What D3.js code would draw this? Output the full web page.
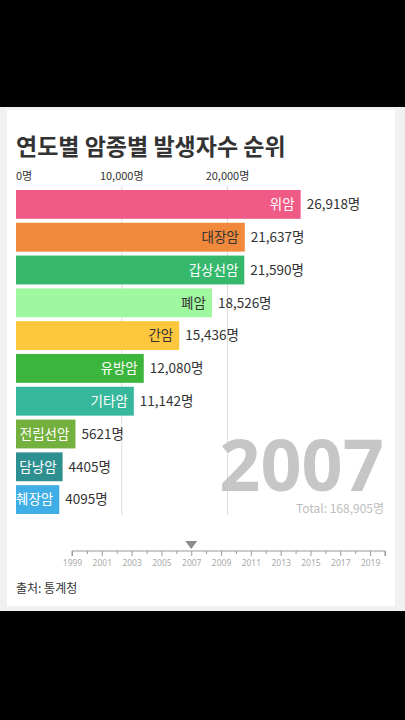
<!DOCTYPE html>
<html>
<head>
<meta charset="utf-8">
<script src="https://cdn.jsdelivr.net/npm/d3@7"></script>
<style>
  html, body { margin: 0; padding: 0; background: #000; }
  svg { display: block; font-family: "Noto Sans CJK KR", "Noto Sans", sans-serif; }
</style>
</head>
<body>
<svg></svg>
<script>
// 2007년 암종별 발생자수
let categories = ["위암", "대장암", "갑상선암", "폐암", "간암", "유방암", "기타암", "전립선암", "담낭암", "췌장암"];
let values = [26918, 21637, 21590, 18526, 15436, 12080, 11142, 5621, 4405, 4095];
let barColors = ["#f05a86", "#f1893c", "#35b86b", "#9ff79f", "#fcc73d", "#3bb53b", "#37b79b", "#73b03e", "#2e8f90", "#40aee6"];
let darkLabels = ["대장암", "폐암", "간암"];
let axisTicks = [0, 10000, 20000];
let timelineYears = [1999, 2001, 2003, 2005, 2007, 2009, 2011, 2013, 2015, 2017, 2019];

let year = 2007;
let total = 168905;
let title = "연도별 암종별 발생자수 순위";
let source = "출처: 통계청";

let width = 405;
let height = 720;

let svg = d3.select("svg");
let fmt = d3.format(",");
let valueText = (v) => (v >= 10000 ? fmt(v) : String(v)) + "명";

const drawCanvas = () => {
  svg.attr("width", width).attr("height", height);
  svg.append("rect").attr("x", 0).attr("y", 0).attr("width", width).attr("height", height).attr("fill", "#000");
  svg.append("rect").attr("x", 0).attr("y", 107).attr("width", width).attr("height", 504).attr("fill", "#f1f1f1");
  svg.append("rect").attr("x", 7).attr("y", 110).attr("width", 388).attr("height", 496).attr("fill", "#fff");
};

const addTitle = () => {
  svg.append("text")
    .attr("x", 16)
    .attr("y", 155)
    .attr("font-size", 23)
    .attr("font-weight", "bold")
    .attr("fill", "#333")
    .text(title);
};

let xScale = d3.scaleLinear().domain([0, 20000]).range([16, 227.5]);
let yScale = d3.scaleBand().domain(categories).range([188, 516]).paddingInner(0.12).paddingOuter(0.06);
let color = d3.scaleOrdinal().domain(categories).range(barColors);

const drawGrid = () => {
  let g = svg.append("g");
  g.selectAll("line")
    .data(axisTicks.filter((d) => d > 0))
    .enter()
    .append("line")
    .attr("x1", (d) => xScale(d))
    .attr("x2", (d) => xScale(d))
    .attr("y1", 186)
    .attr("y2", 515)
    .attr("stroke", "#dcdcdc")
    .attr("stroke-width", 1);

  g.selectAll("text")
    .data(axisTicks)
    .enter()
    .append("text")
    .attr("x", (d) => xScale(d))
    .attr("y", 180)
    .attr("text-anchor", (d) => (d === 0 ? "start" : "middle"))
    .attr("font-size", 11)
    .attr("fill", "#333")
    .text((d) => fmt(d) + "명");
};

const drawBars = () => {
  svg.append("clipPath").attr("id", "plot-clip")
    .append("rect").attr("x", 16).attr("y", 180).attr("width", 380).attr("height", 340);

  let rows = svg.append("g")
    .selectAll("g")
    .data(categories)
    .enter()
    .append("g");

  rows.append("rect")
    .attr("x", xScale(0))
    .attr("y", (d) => yScale(d))
    .attr("width", (d, i) => xScale(values[i]) - xScale(0))
    .attr("height", yScale.bandwidth())
    .attr("fill", (d) => color(d));

  rows.append("text")
    .attr("clip-path", "url(#plot-clip)")
    .attr("x", (d, i) => xScale(values[i]) - 6)
    .attr("y", (d) => yScale(d) + yScale.bandwidth() / 2)
    .attr("dy", "0.35em")
    .attr("text-anchor", "end")
    .attr("font-size", 13.5)
    .attr("fill", (d) => (darkLabels.includes(d) ? "#333" : "#fff"))
    .text((d) => d);

  rows.append("text")
    .attr("x", (d, i) => xScale(values[i]) + 6)
    .attr("y", (d) => yScale(d) + yScale.bandwidth() / 2)
    .attr("dy", "0.35em")
    .attr("font-size", 13.5)
    .attr("fill", "#333")
    .text((d, i) => valueText(values[i]));
};

const drawYear = () => {
  svg.append("text")
    .attr("x", 384)
    .attr("y", 491)
    .attr("text-anchor", "end")
    .attr("font-family", "'Noto Sans', sans-serif")
    .attr("font-size", 72)
    .attr("font-weight", "bold")
    .attr("fill", "#c6c6c6")
    .text(year);

  svg.append("text")
    .attr("x", 384)
    .attr("y", 513)
    .attr("text-anchor", "end")
    .attr("font-size", 12)
    .attr("fill", "#bdbdbd")
    .text("Total: " + fmt(total) + "명");
};

const drawTimeline = () => {
  let tScale = d3.scaleLinear().domain([1999, 2020]).range([72, 385]);
  let g = svg.append("g").attr("transform", "translate(0, 551)");

  let axis = d3.axisBottom(tScale)
    .tickValues(d3.range(1999, 2021))
    .tickSize(5)
    .tickSizeOuter(0)
    .tickFormat((d) => (timelineYears.includes(d) ? d : ""));
  g.call(axis);

  g.select(".domain").attr("stroke", "#999").attr("d", "M72,5V0H385V5");
  g.selectAll(".tick line")
    .attr("stroke", "#999")
    .attr("y2", (d) => (timelineYears.includes(d) || d === 2020 ? 5 : 3));
  g.selectAll(".tick text")
    .attr("y", 9)
    .attr("font-family", "'Noto Sans', sans-serif")
    .attr("font-size", 8.5)
    .attr("fill", "#aaa");

  svg.append("path")
    .attr("d", `M${tScale(year) - 6},541 L${tScale(year) + 6},541 L${tScale(year)},549 Z`)
    .attr("fill", "#8c8c8c");
};

const addSource = () => {
  svg.append("text")
    .attr("x", 16)
    .attr("y", 593)
    .attr("font-size", 12)
    .attr("fill", "#333")
    .text(source);
};

drawCanvas();
addTitle();
drawGrid();
drawBars();
drawYear();
drawTimeline();
addSource();
</script>
</body>
</html>
